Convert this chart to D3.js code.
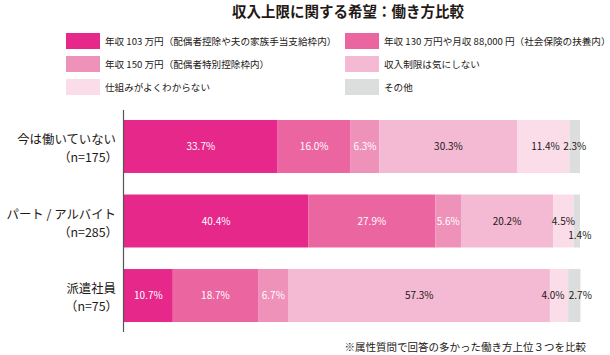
<!DOCTYPE html>
<html><head><meta charset="utf-8">
<script src="https://cdn.jsdelivr.net/npm/d3@7"></script>
<style>
body{margin:0;background:#fff;}
text{font-family:"Noto Sans CJK JP","Noto Sans",sans-serif;fill:#231815;}
</style></head>
<body><svg id="c" width="610" height="355"></svg>
<script>
const title = "収入上限に関する希望：働き方比較";
const footnote = "※属性質問で回答の多かった働き方上位３つを比較";
const categories = ["今は働いていない", "パート / アルバイト", "派遣社員"];
const sampleSizes = ["（n=175）", "（n=285）", "（n=75）"];
const seriesNames = [
  "年収 103 万円（配偶者控除や夫の家族手当支給枠内）",
  "年収 130 万円や月収 88,000 円（社会保険の扶養内）",
  "年収 150 万円（配偶者特別控除枠内）",
  "収入制限は気にしない",
  "仕組みがよくわからない",
  "その他"
];
const s103 = [33.7, 40.4, 10.7];
const s130 = [16.0, 27.9, 18.7];
const s150 = [6.3, 5.6, 6.7];
const sFree = [30.3, 20.2, 57.3];
const sUnknown = [11.4, 4.5, 4.0];
const sOther = [2.3, 1.4, 2.7];
const seriesValues = [s103, s130, s150, sFree, sUnknown, sOther];

const colors = ["#e5288a", "#eb65a0", "#ee92b9", "#f4b9d3", "#fbdde9", "#dcdddd"];
const labelColors = ["#fff", "#fff", "#fff", "#231815", "#231815", "#231815"];
// label nudges [row]-[series] -> [dx, dy]
const nudge = {"0-4": [2, 0], "1-5": [3, 14], "2-4": [-6, 0], "2-5": [6, 0]};

const svg = d3.select("#c");

svg.append("text").attr("x", 348).attr("y", 17).attr("text-anchor", "middle")
  .attr("font-size", 14.5).attr("font-weight", "bold").text(title);

// legend
seriesNames.forEach((name, i) => {
  const col = i % 2, row = Math.floor(i / 2);
  const lx = col === 0 ? 66 : 345, ly = 33 + row * 23;
  svg.append("rect").attr("x", lx).attr("y", ly).attr("width", 34).attr("height", 16).attr("fill", colors[i]);
  svg.append("text").attr("x", lx + 39).attr("y", ly + 12).attr("font-size", 9.6).text(name);
});

const x = d3.scaleLinear().domain([0, 100]).range([124, 580]);
const y = d3.scaleBand().domain(d3.range(categories.length)).range([110, 332]).paddingInner(0.289).paddingOuter(0.134);

const rows = categories.map((c, ri) => {
  let acc = 0;
  return seriesValues.map((vals, si) => {
    const v = vals[ri];
    const d = {ri, si, v, x0: acc, x1: acc + v};
    acc += v;
    return d;
  });
});

const g = svg.append("g");
rows.forEach(r => {
  g.selectAll(null).data(r).enter().append("rect")
    .attr("x", d => x(d.x0)).attr("y", d => y(d.ri))
    .attr("width", d => x(d.x1) - x(d.x0)).attr("height", y.bandwidth())
    .attr("fill", d => colors[d.si]);
  g.selectAll(null).data(r).enter().append("text")
    .attr("x", d => (x(d.x0) + x(d.x1)) / 2 + (nudge[d.ri + "-" + d.si] || [0, 0])[0])
    .attr("y", d => y(d.ri) + y.bandwidth() / 2 + 3.6 + (nudge[d.ri + "-" + d.si] || [0, 0])[1])
    .attr("text-anchor", "middle")
    .attr("font-family", "'Liberation Sans', Arial, sans-serif")
    .attr("font-size", 10)
    .style("fill", d => labelColors[d.si])
    .text(d => d.v.toFixed(1) + "%");
});

// category labels (two lines)
categories.forEach((c, i) => {
  const cy = y(i) + y.bandwidth() / 2;
  svg.append("text").attr("x", 116).attr("y", cy - 2.5).attr("text-anchor", "end").attr("font-size", 12.4).text(c);
  svg.append("text").attr("x", 118).attr("y", cy + 15.5).attr("text-anchor", "end").attr("font-size", 12.4).text(sampleSizes[i]);
});

// axis line
svg.append("line").attr("x1", 123.5).attr("x2", 123.5).attr("y1", 110).attr("y2", 332)
  .attr("stroke", "#555").attr("stroke-width", 1.2);

svg.append("text").attr("x", 586).attr("y", 351).attr("text-anchor", "end").attr("font-size", 10.5).text(footnote);
</script></body></html>
